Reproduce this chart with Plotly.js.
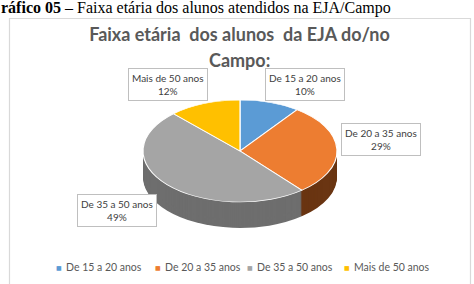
<!DOCTYPE html>
<html><head><meta charset="utf-8">
<script src="https://cdn.plot.ly/plotly-3.0.1.min.js"></script>
<style>html,body{margin:0;padding:0;background:#fff;overflow:hidden}#chart{width:474px;height:284px}</style>
</head><body><div id="chart"></div>
<script>
// ---- data ----
const labels = ["De 15 a 20 anos", "De 20 a 35 anos", "De 35 a 50 anos", "Mais de 50 anos"];
const values = [10, 29, 49, 12];
const topColors = ["#5B9BD5", "#ED7D31", "#A5A5A5", "#FFC000"];
const sideColors = ["#2F5F8C", "#6A3512", "#6E6E6E", "#8C6A00"];
const titleLine1 = "Faixa etária\u00a0 dos alunos\u00a0 da EJA do/no";
const titleLine2 = "Campo:";
const caption = "<b>ráfico 05</b> – Faixa etária dos alunos atendidos na EJA/Campo";

// ---- layout helpers ----
const W = 474, H = 284;
const px = x => x / W, py = y => 1 - y / H;
const cx = 240, R = 97, cyTop = 151, ry = 51, depth = 26;
const s = ry / R;
const preTop = 115;
const ty = cyTop - s * preTop;

function pieTrace(preCy, colors, lineW) {
  return {
    type: 'pie', labels: labels, values: values, sort: false, direction: 'clockwise', rotation: 0,
    textinfo: 'none', hoverinfo: 'skip', showlegend: false,
    marker: { colors: colors, line: { color: '#ffffff', width: lineW } },
    domain: { x: [px(cx - R), px(cx + R)], y: [py(preCy + R), py(preCy - R)] }
  };
}
const traces = [];
for (let k = depth; k >= 1; k--) traces.push(pieTrace(preTop + k / s, sideColors, 0));
traces.push(pieTrace(preTop, topColors, 1.2));

const labelPos = [[304.5, 84], [380.5, 139.5], [116.5, 210.5], [168, 85]];
const legendSq = [59, 158, 250, 347];
const legendTx = [63.5, 162.5, 254.5, 351.5];
const legendY = 267;

const annotations = [];
annotations.push({ text: caption, xref: 'paper', yref: 'paper', x: px(-1), y: py(8), xanchor: 'left', yanchor: 'middle',
  showarrow: false, font: { family: 'Liberation Serif', size: 16, color: '#000' } });
annotations.push({ text: titleLine2, xref: 'paper', yref: 'paper', x: px(239.5), y: py(59.5), xanchor: 'center', yanchor: 'middle',
  showarrow: false, font: { family: 'Lato', size: 18, color: '#595959', weight: 700 } });
labels.forEach((l, i) => {
  annotations.push({ text: l + '<br>' + values[i] + '%', xref: 'paper', yref: 'paper',
    x: px(labelPos[i][0]), y: py(labelPos[i][1]), xanchor: 'center', yanchor: 'middle', showarrow: false,
    bgcolor: '#ffffff', bordercolor: '#bfbfbf', borderwidth: 1, borderpad: 3,
    font: { family: 'Lato', size: 10, color: '#404040' } });
  annotations.push({ text: '■', xref: 'paper', yref: 'paper', x: px(legendSq[i]), y: py(legendY), xanchor: 'center', yanchor: 'middle',
    showarrow: false, font: { family: 'DejaVu Sans', size: 6, color: topColors[i] } });
  annotations.push({ text: l, xref: 'paper', yref: 'paper', x: px(legendTx[i]), y: py(legendY), xanchor: 'left', yanchor: 'middle',
    showarrow: false, font: { family: 'Lato', size: 10.5, color: '#595959' } });
});

const layout = {
  width: W, height: H, margin: { l: 0, r: 0, t: 0, b: 0, pad: 0 },
  paper_bgcolor: '#ffffff', plot_bgcolor: '#ffffff', showlegend: false,
  title: { text: titleLine1, x: px(239.5), xanchor: 'center', y: py(35), yanchor: 'middle', yref: 'container',
    font: { family: 'Lato', size: 18, color: '#595959', weight: 700 } },
  shapes: [{ type: 'rect', xref: 'paper', yref: 'paper', x0: px(9.5), x1: px(470.5), y0: -0.1, y1: py(18.5),
    line: { color: '#d9d9d9', width: 1.2 }, fillcolor: 'rgba(0,0,0,0)', layer: 'below' }],
  annotations: annotations
};

Plotly.newPlot('chart', traces, layout, { staticPlot: true, displayModeBar: false }).then(() => {
  const g = document.querySelector('#chart .pielayer');
  if (g) g.setAttribute('transform', 'matrix(1 0 0 ' + s + ' 0 ' + ty + ')');
});
</script></body></html>
